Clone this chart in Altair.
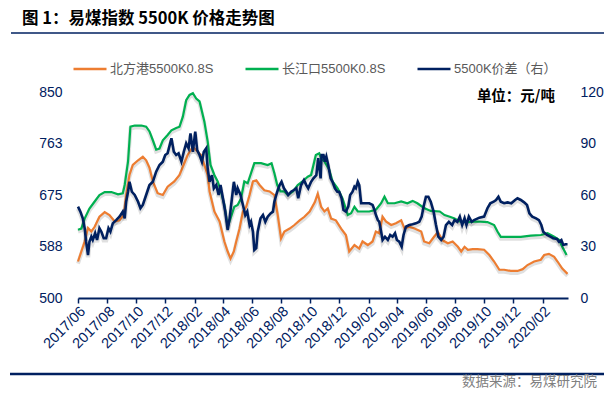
import altair as alt
import pandas as pd

START = pd.Timestamp("2017-06-01")

SERIES = ["北方港5500K0.8S", "长江口5500K0.8S", "5500K价差（右）"]
COLORS = ["#ED7D31", "#00B050", "#002060"]
NAVY = "#002060"
FONT = "Liberation Sans, Arial, Noto Sans CJK SC, sans-serif"
CJK = "Noto Sans CJK SC, sans-serif"

TITLE = "图 1：易煤指数 5500K 价格走势图"
UNIT = "单位：元/吨"
SOURCE = "数据来源：易煤研究院"

# days since 2017-06-01
nfg_day = [0, 14, 21, 28, 35, 45, 56, 66, 77, 87, 96, 101, 108, 115, 126, 136, 143, 150, 157, 167,
           178, 188, 202, 213, 220, 230, 241, 248, 258, 272, 276, 286, 297, 307, 314, 320, 327, 332, 339, 346,
           353, 360, 367, 374, 381, 391, 402, 412, 419, 426, 433, 444, 454, 465, 475, 486, 497, 503, 510, 517,
           524, 531, 541, 552, 562, 569, 580, 590, 597, 608, 618, 625, 632, 639, 646, 657, 667, 678, 685, 695,
           706, 720, 726, 737, 747, 755, 765, 776, 786, 797, 804, 811, 818, 828, 838, 852, 863, 873, 884, 894,
           908, 922, 933, 943, 957, 971, 978, 988, 999, 1006, 1016, 1027]
nfg_val = [562, 596, 619, 613, 621, 638, 646, 641, 630, 632, 641, 675, 709, 726, 734, 740, 734, 721, 698, 678,
           675, 689, 698, 709, 723, 743, 757, 751, 743, 709, 681, 647, 630, 596, 579, 567, 579, 596, 618, 647,
           655, 675, 698, 700, 692, 683, 681, 675, 641, 601, 613, 618, 624, 632, 638, 647, 663, 677, 655, 647,
           652, 635, 632, 618, 607, 579, 590, 584, 596, 590, 596, 613, 610, 638, 630, 624, 627, 632, 618, 621,
           618, 613, 596, 593, 604, 612, 598, 593, 596, 587, 579, 587, 582, 583, 583, 582, 573, 562, 548, 548,
           546, 546, 549, 556, 562, 565, 573, 575, 570, 562, 550, 541]

cjk_day = [0, 7, 14, 24, 35, 45, 56, 70, 84, 94, 98, 105, 110, 119, 133, 143, 150, 157, 164, 171,
           178, 188, 196, 206, 213, 220, 227, 234, 241, 248, 255, 265, 272, 278, 286, 293, 300, 307, 314, 321,
           328, 335, 342, 349, 356, 363, 370, 384, 398, 406, 412, 418, 425, 433, 440, 451, 461, 471, 482, 489,
           494, 499, 506, 510, 517, 527, 534, 545, 555, 566, 573, 580, 587, 597, 611, 625, 636, 643, 650, 664,
           678, 691, 702, 712, 726, 740, 759, 769, 780, 790, 801, 818, 838, 859, 873, 880, 887, 908, 929, 950,
           971, 985, 999, 1009, 1016, 1025]
cjk_val = [616, 618, 635, 652, 664, 675, 680, 680, 676, 678, 692, 732, 791, 793, 793, 791, 783, 768, 752, 754,
           768, 777, 785, 789, 791, 808, 836, 845, 848, 839, 834, 800, 766, 726, 709, 698, 681, 658, 621, 638,
           655, 658, 669, 698, 695, 712, 729, 729, 726, 729, 712, 692, 681, 681, 675, 681, 692, 698, 706, 709,
           726, 743, 746, 737, 732, 718, 698, 686, 669, 641, 644, 655, 647, 647, 647, 650, 661, 672, 661, 661,
           664, 661, 665, 661, 653, 648, 647, 641, 638, 635, 630, 629, 630, 629, 624, 613, 604, 604, 604, 606,
           607, 610, 604, 599, 587, 573]

spread_day = [0, 5, 10, 14, 17, 21, 24, 28, 31, 36, 40, 45, 49, 54, 59, 64, 68, 73, 80, 87,
              94, 98, 101, 105, 108, 113, 119, 126, 131, 136, 143, 150, 157, 164, 171, 178, 183, 188, 196, 201,
              206, 211, 217, 222, 227, 232, 236, 241, 246, 250, 255, 260, 264, 269, 272, 276, 281, 285, 290, 295,
              299, 304, 309, 314, 318, 323, 327, 332, 335, 341, 346, 351, 355, 360, 363, 367, 370, 374, 377, 383,
              388, 393, 398, 404, 409, 412, 418, 423, 427, 432, 437, 441, 447, 453, 458, 462, 468, 474, 479, 483,
              489, 494, 500, 504, 509, 511, 515, 518, 521, 525, 530, 534, 539, 544, 548, 553, 557, 562, 567, 571,
              576, 580, 583, 587, 590, 594, 601, 611, 618, 622, 625, 629, 632, 636, 639, 644, 650, 655, 660, 665,
              669, 674, 679, 683, 688, 695, 702, 709, 716, 721, 725, 730, 735, 740, 746, 751, 756, 762, 767, 772,
              778, 785, 790, 796, 801, 806, 811, 815, 820, 826, 831, 842, 852, 859, 865, 872, 877, 882, 887, 894,
              901, 909, 917, 922, 929, 936, 942, 947, 953, 961, 967, 972, 976, 984, 991, 997, 1005, 1009, 1014, 1018,
              1023, 1027]
spread_val = [53.2, 50.3, 46.4, 40.6, 32.8, 25.0, 32.8, 35.7, 33.8, 37.7, 33.8, 40.6, 38.6, 34.8, 34.8, 40.6, 38.6, 43.5, 45.4, 47.4,
              50.3, 46.4, 56.1, 61.9, 67.7, 61.9, 60.0, 56.1, 52.3, 54.2, 60.0, 65.8, 67.7, 73.6, 77.5, 79.4, 83.3, 84.3, 93.0, 85.2,
              83.3, 84.3, 79.4, 85.2, 90.1, 87.2, 95.9, 85.2, 96.9, 86.2, 83.3, 79.4, 85.2, 87.2, 75.6, 67.7, 71.6, 63.9, 65.8, 60.0,
              65.8, 58.1, 50.3, 39.6, 46.4, 58.1, 67.7, 60.0, 63.9, 60.0, 54.2, 48.3, 50.3, 42.5, 44.4, 38.6, 28.0, 29.0, 38.6, 46.4,
              48.3, 44.4, 47.4, 49.3, 50.3, 56.1, 61.9, 65.8, 67.7, 63.9, 61.9, 60.0, 61.9, 62.9, 63.9, 58.1, 65.8, 68.7, 65.8, 63.9,
              67.7, 69.7, 71.6, 81.4, 69.7, 83.3, 83.3, 79.4, 82.3, 77.5, 69.7, 67.7, 63.9, 61.9, 61.9, 58.1, 51.3, 50.3, 53.2, 60.0,
              61.9, 64.8, 63.9, 67.7, 65.8, 55.2, 55.2, 55.2, 54.2, 51.3, 48.3, 45.4, 44.4, 38.6, 33.8, 35.7, 33.8, 36.7, 35.7, 37.7,
              33.8, 32.8, 29.9, 36.7, 41.5, 42.5, 42.9, 43.5, 44.4, 47.4, 53.2, 59.0, 59.0, 56.1, 50.3, 42.5, 35.7, 33.8, 35.7, 42.5,
              44.4, 42.5, 45.4, 44.4, 47.4, 42.5, 46.4, 42.5, 47.4, 44.4, 45.4, 46.8, 47.4, 52.3, 55.2, 56.1, 57.1, 59.0, 56.1, 55.2,
              55.7, 55.2, 57.1, 58.1, 57.1, 55.7, 54.2, 49.3, 47.4, 46.4, 45.4, 42.5, 38.6, 36.7, 35.7, 34.8, 34.4, 32.8, 33.8, 30.9,
              31.3, 31.3]

x_ticks = [(2017, 6), (2017, 8), (2017, 10), (2017, 12), (2018, 2), (2018, 4), (2018, 6), (2018, 8),
           (2018, 10), (2018, 12), (2019, 2), (2019, 4), (2019, 6), (2019, 8), (2019, 10), (2019, 12), (2020, 2)]
left_ticks = [500, 587.5, 675, 762.5, 850]
right_ticks = [0, 30, 60, 90, 120]


def frame(days, vals, name):
    return pd.DataFrame({
        "date": [(START + pd.Timedelta(days=d)).strftime("%Y-%m-%dT00:00:00") for d in days],
        "value": vals,
        "series": name,
    })


left_df = pd.concat([frame(nfg_day, nfg_val, SERIES[0]), frame(cjk_day, cjk_val, SERIES[1])], ignore_index=True)
right_df = frame(spread_day, spread_val, SERIES[2])

x_enc = alt.X(
    "date:T", title=None,
    scale=alt.Scale(domain=[alt.DateTime(year=2017, month=6, date=1), alt.DateTime(year=2020, month=3, date=25)]),
    axis=alt.Axis(values=[alt.DateTime(year=y, month=m, date=1) for y, m in x_ticks], format="%Y/%m",
                  labelAngle=-45, labelAlign="right", labelBaseline="top", labelFont=FONT, labelFontSize=14.5,
                  labelColor=NAVY, labelPadding=1, labelOverlap=False, labelBound=False, labelFlush=False,
                  domainColor=NAVY, domainWidth=2, tickColor=NAVY, tickWidth=1.5, tickSize=5, grid=False),
)

color_enc = alt.Color(
    "series:N",
    scale=alt.Scale(domain=SERIES, range=COLORS),
    legend=alt.Legend(title=None, orient="none", legendX=-6, legendY=-41, direction="horizontal",
                      symbolType="stroke", symbolSize=1089, symbolStrokeWidth=2.5,
                      labelFont=FONT, labelFontSize=13, labelColor="#595959", labelOffset=2,
                      columnPadding=26, labelLimit=300),
)

y_left = alt.Y("value:Q", title=None, scale=alt.Scale(domain=[500, 850]),
               axis=alt.Axis(values=left_ticks, format=".0f", orient="left", domain=False, ticks=False, grid=False,
                             labelColor=NAVY, labelFont=FONT, labelFontSize=14, labelPadding=16))
y_right = alt.Y("value:Q", title=None, scale=alt.Scale(domain=[0, 120]),
                axis=alt.Axis(values=right_ticks, orient="right", domain=False, ticks=False, grid=False,
                              labelColor=NAVY, labelFont=FONT, labelFontSize=14, labelPadding=12))

left_shadow = alt.Chart(left_df).transform_calculate(value="datum.value - 3.4").mark_line(
    color="#000000", opacity=0.12, strokeWidth=4).encode(x=x_enc, y=y_left, detail="series:N")
left_main = alt.Chart(left_df).mark_line(strokeWidth=2.2).encode(x=x_enc, y=y_left, color=color_enc)
right_shadow = alt.Chart(right_df).transform_calculate(value="datum.value - 1.2").mark_line(
    color="#000000", opacity=0.12, strokeWidth=4.5).encode(x=x_enc, y=y_right, detail="series:N")
right_main = alt.Chart(right_df).mark_line(strokeWidth=2.6).encode(x=x_enc, y=y_right, color=color_enc)

left_layer = alt.layer(left_shadow, left_main)
right_layer = alt.layer(right_shadow, right_main)

one = pd.DataFrame({"k": [0]})
title_txt = alt.Chart(pd.DataFrame({"t": [TITLE]})).mark_text(
    align="left", baseline="middle", font=CJK, fontSize=16.5, fontWeight="bold", color="#000000").encode(
    text="t:N", x=alt.value(-56), y=alt.value(-73))
title_line = alt.Chart(one).mark_rule(color=NAVY, strokeWidth=1.5).encode(
    x=alt.value(-67), x2=alt.value(526), y=alt.value(-59))
bottom_line = alt.Chart(one).mark_rule(color=NAVY, strokeWidth=2.5).encode(
    x=alt.value(-68), x2=alt.value(526), y=alt.value(282))
unit_txt = alt.Chart(pd.DataFrame({"t": [UNIT]})).mark_text(
    align="right", baseline="middle", font=CJK, fontSize=14.5, fontWeight="bold", color="#000000").encode(
    text="t:N", x=alt.value(477), y=alt.value(5))
source_txt = alt.Chart(pd.DataFrame({"t": [SOURCE]})).mark_text(
    align="right", baseline="bottom", font=CJK, fontSize=13.5, color="#808080").encode(
    text="t:N", x=alt.value(519), y=alt.value(297))

chart = alt.layer(left_layer, right_layer, title_txt, title_line, bottom_line, unit_txt, source_txt).resolve_scale(
    y="independent"
).properties(
    width=490, height=206,
    autosize=alt.AutoSizeParams(type="none"),
    padding={"left": 70, "top": 84, "right": 36, "bottom": 92},
).configure_view(stroke=None)

chart.save("out.html", embed_options={"renderer": "svg", "actions": False})
